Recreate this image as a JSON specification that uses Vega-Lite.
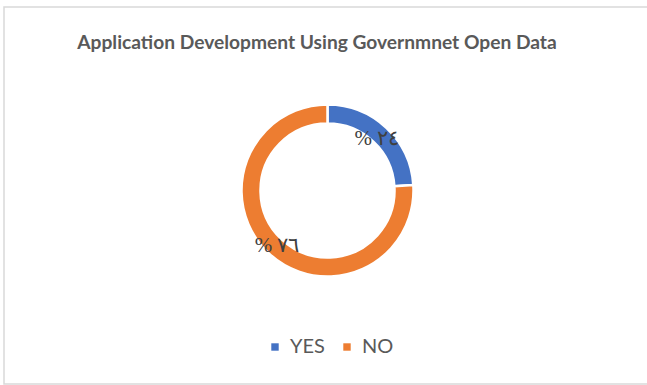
{
  "$schema": "https://vega.github.io/schema/vega-lite/v6.json",
  "width": 650,
  "height": 377,
  "autosize": {"type": "none"},
  "padding": {"left": 4, "top": 7, "right": 0, "bottom": 1},
  "background": "white",
  "view": {"stroke": "#d9d9d9", "strokeWidth": 1.5},
  "config": {
    "view": {"stroke": "#d9d9d9", "strokeWidth": 1.5},
    "font": "Lato",
    "legend": {"layout": {"bottom": {"anchor": "middle"}}}
  },
  "title": {
    "text": "Application Development Using Governmnet Open Data",
    "orient": "top",
    "anchor": "middle",
    "frame": "group",
    "offset": -46,
    "dx": -12,
    "font": "Lato",
    "fontSize": 19.2,
    "fontWeight": "bold",
    "color": "#595959"
  },
  "data": {
    "values": [
      {"answer": "YES", "percent": 24, "label": "% ٢٤"},
      {"answer": "NO", "percent": 76, "label": "% ٧٦"}
    ]
  },
  "encoding": {
    "theta": {"field": "percent", "type": "quantitative", "stack": true},
    "order": {"field": "answer", "sort": "descending"},
    "color": {
      "field": "answer",
      "type": "nominal",
      "scale": {"domain": ["YES", "NO"], "range": ["#4472C4", "#ED7D31"]},
      "legend": {
        "title": null,
        "orient": "bottom",
        "direction": "horizontal",
        "offset": -47,
        "symbolType": "square",
        "symbolSize": 55,
        "symbolStrokeWidth": 0,
        "labelFont": "Lato",
        "labelFontSize": 20,
        "labelColor": "#595959",
        "columnPadding": 12,
        "labelOffset": 5,
        "dx": -4
      }
    }
  },
  "layer": [
    {
      "mark": {"type": "arc", "outerRadius": 86, "innerRadius": 67, "stroke": "white", "strokeWidth": 2.5, "yOffset": -5, "xOffset": -1.5}
    },
    {
      "mark": {"type": "text", "radius": 73, "font": "Liberation Serif", "fontSize": 21, "yOffset": -3, "xOffset": -2},
      "encoding": {
        "text": {"field": "label"},
        "color": {"value": "#404040"}
      }
    }
  ]
}
